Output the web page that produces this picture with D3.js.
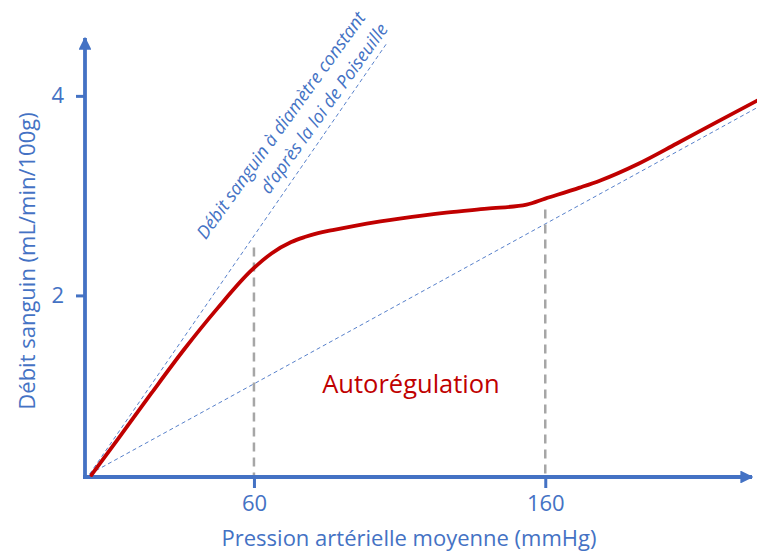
<!DOCTYPE html>
<html><head><meta charset="utf-8">
<script src="https://cdn.jsdelivr.net/npm/d3@7/dist/d3.min.js"></script>
<style>
html,body{margin:0;padding:0;background:#fff;}
text{font-family:"Open Sans",sans-serif;}
</style></head>
<body><svg id="c" width="757" height="557"></svg>
<script>
// ---- data ----
const curveX = [4.2, 13.3, 24.8, 36.2, 47.6, 59.1, 66, 72.8, 77.4, 82, 87, 98.7, 110, 126, 140, 153.6, 160, 171.8, 178.7, 192, 205, 219, 232.6];
const curveY = [0.20, 0.56, 1.02, 1.465, 1.875, 2.25, 2.42, 2.535, 2.585, 2.625, 2.655, 2.72, 2.77, 2.83, 2.87, 2.91, 2.97, 3.08, 3.15, 3.32, 3.52, 3.74, 3.95];
const poiseuilleX = [3.6, 105.9];
const poiseuilleY = [0.21, 4.54];
const lowerX = [3.6, 232.6];
const lowerY = [0.21, 3.88];
const markerX = [60, 160];
const markerTopY = [2.48, 2.86];
const xTicks = [60, 160];
const yTicks = [2, 4];
const xTitle = "Pression artérielle moyenne (mmHg)";
const yTitle = "Débit sanguin (mL/min/100g)";
const annotation = "Autorégulation";
const poiseuilleLabel = ["Débit sanguin à diamètre constant", "d’après la loi de Poiseuille"];

// ---- drawing ----
const blue = "#4472C4", red = "#C00000", grey = "#A6A6A6";
const svg = d3.select("#c");
const x = d3.scaleLinear().domain([2, 232]).range([85, 755]);
const y = d3.scaleLinear().domain([0.18, 4.6]).range([477, 36]);

const defs = svg.append("defs");
defs.append("marker").attr("id","arr").attr("viewBox","0 0 10 10").attr("refX",9).attr("refY",5)
  .attr("markerWidth",3.4).attr("markerHeight",3.4).attr("orient","auto").attr("markerUnits","strokeWidth")
  .append("path").attr("d","M0,0 L10,5 L0,10 Z").attr("fill",blue);

const line = d3.line().x(d=>x(d[0])).y(d=>y(d[1]));

// Poiseuille and lower dashed lines
svg.append("path").datum(d3.zip(poiseuilleX, poiseuilleY)).attr("d", line)
  .attr("fill","none").attr("stroke", blue).attr("stroke-width",0.9).attr("stroke-dasharray","4,3");
svg.append("path").datum(d3.zip(lowerX, lowerY)).attr("d", line)
  .attr("fill","none").attr("stroke", blue).attr("stroke-width",0.9).attr("stroke-dasharray","4,3");

// vertical grey dashed markers
svg.selectAll(".vm").data(d3.zip(markerX, markerTopY)).join("line")
  .attr("x1", d=>x(d[0])).attr("x2", d=>x(d[0]))
  .attr("y1", d=>y(d[1])).attr("y2", y(0.18))
  .attr("stroke", grey).attr("stroke-width",2.5).attr("stroke-dasharray","9,6");

// axes with ticks
const gx = svg.append("g").attr("transform",`translate(0,${y(0.18)})`)
  .call(d3.axisBottom(x).tickValues(xTicks).tickSize(11).tickSizeOuter(0).tickPadding(7).tickFormat(d3.format("d")));
const gy = svg.append("g").attr("transform",`translate(${x(2)},0)`)
  .call(d3.axisLeft(y).tickValues(yTicks).tickSize(9).tickSizeOuter(0).tickPadding(12).tickFormat(d3.format("d")));
[gx, gy].forEach(g=>{
  g.select(".domain").remove();
  g.selectAll(".tick line").attr("stroke", blue).attr("stroke-width",3);
  g.selectAll(".tick text").attr("fill", blue).style("font-size","22px").style("font-family","'Open Sans',sans-serif");
});

// axis lines with arrows
svg.append("line").attr("x1", x(2)-2).attr("x2", 752).attr("y1", y(0.18)).attr("y2", y(0.18))
  .attr("stroke", blue).attr("stroke-width",3.8).attr("marker-end","url(#arr)");
svg.append("line").attr("x1", x(2)).attr("x2", x(2)).attr("y1", y(0.18)+2).attr("y2", 38)
  .attr("stroke", blue).attr("stroke-width",3.8).attr("marker-end","url(#arr)");

// red curve
svg.append("path").datum(d3.zip(curveX, curveY))
  .attr("d", d3.line().x(d=>x(d[0])).y(d=>y(d[1])).curve(d3.curveMonotoneX))
  .attr("fill","none").attr("stroke", red).attr("stroke-width",3.8).attr("stroke-linecap","round");

// titles
svg.append("text").attr("x", 409).attr("y", 546).attr("text-anchor","middle")
  .attr("fill", blue).style("font-size","22px").text(xTitle);
svg.append("text").attr("transform","translate(35,261) rotate(-90)").attr("text-anchor","middle")
  .attr("fill", blue).style("font-size","22px").text(yTitle);

// annotation
svg.append("text").attr("x", 411).attr("y", 393).attr("text-anchor","middle")
  .attr("fill", red).style("font-size","25.5px").text(annotation);

// rotated Poiseuille label
const ang = -54.2;
svg.append("text").attr("transform",`translate(286,129) rotate(${ang})`).attr("text-anchor","middle")
  .attr("fill", blue).style("font-size","18px").style("font-style","italic").text(poiseuilleLabel[0]);
svg.append("text").attr("transform",`translate(329,112) rotate(${ang})`).attr("text-anchor","middle")
  .attr("fill", blue).style("font-size","18px").style("font-style","italic").text(poiseuilleLabel[1]);
</script>
</body></html>
